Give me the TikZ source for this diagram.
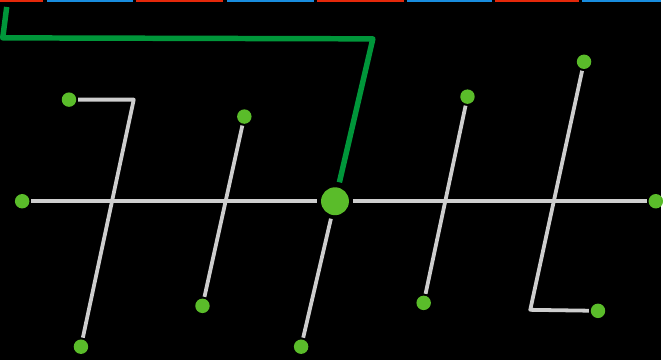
\documentclass[tikz,border=0pt]{standalone}
\usepackage{tikz}
\usetikzlibrary{positioning}

\definecolor{stripred}{RGB}{228,40,10}
\definecolor{stripblue}{RGB}{24,140,222}
\definecolor{routegreen}{RGB}{0,150,58}
\definecolor{dotgreen}{RGB}{90,188,42}
\definecolor{wiregray}{RGB}{206,206,206}

\tikzset{
    dot/.style={circle, fill=dotgreen, inner sep=0pt, minimum size=14.5pt, outer sep=2pt},
    hub/.style={circle, fill=dotgreen, inner sep=0pt, minimum size=28pt, outer sep=4pt},
    wire/.style={draw=wiregray, line width=3.8pt, line join=round},
    route/.style={draw=routegreen, line width=5.5pt, line join=round}
}

\begin{document}
\begin{tikzpicture}[x=1pt, y=-1pt]
    \fill[black] (0,0) rectangle (663,361);
    \foreach \a/\b/\c in {0/43/stripred, 46.5/133.5/stripblue, 136.5/224/stripred, 227.5/315/stripblue,
                          318/405/stripred, 408.5/494/stripblue, 497/580.5/stripred, 584/663/stripblue} {
        \fill[\c] (\a,0) rectangle (\b,2.2);
    }

    % nodes
    \node[hub] (hub) at (336,202) {};
    \node[dot] (west) at (22,202) {};
    \node[dot] (east) at (658,202) {};
    \node[dot] (a1) at (69,100) {};
    \node[dot] (a2) at (81,348) {};
    \node[dot] (b1) at (245,117) {};
    \node[dot] (b2) at (203,307) {};
    \node[dot] (c2) at (302,348) {};
    \node[dot] (d1) at (469,97) {};
    \node[dot] (d2) at (425,304) {};
    \node[dot] (e1) at (586,62) {};
    \node[dot] (e2) at (600,312) {};

    \coordinate (ka) at (134,100);
    \coordinate (ke) at (532,311);
    \coordinate (g0) at (6.5,7);
    \coordinate (g1) at (2.5,38);
    \coordinate (g2) at (374,39);

    % gray wires
    \draw[wire] (west) -- (hub) -- (east);
    \draw[wire] (a1) -- (ka) -- (a2);
    \draw[wire] (b1) -- (b2);
    \draw[wire] (hub) -- (c2);
    \draw[wire] (d1) -- (d2);
    \draw[wire] (e1) -- (ke) -- (e2);

    % green route
    \draw[route, shorten >=1.5pt] (g0) -- (g1) -- (g2) -- (hub);
\end{tikzpicture}
\end{document}
